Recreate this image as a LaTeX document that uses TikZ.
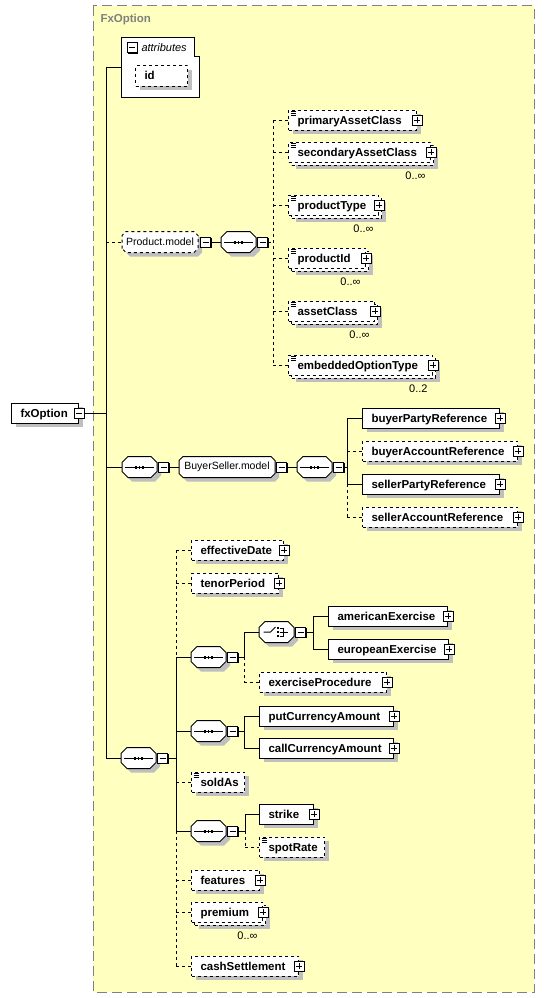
\documentclass[tikz,border=0pt]{standalone}
\usepackage{fontspec}
\setmainfont{Liberation Sans}
\usetikzlibrary{positioning,shadows}

\definecolor{schemabg}{RGB}{255,255,192}
\definecolor{framegray}{RGB}{128,128,128}
\newcommand\elfont{\fontsize{11.5}{13}\selectfont\bfseries\hyphenpenalty=10000 }
\newcommand\grfont{\fontsize{10.5}{12}\selectfont}

% compositor / group outline: rectangle with cut corners
\makeatletter
\pgfkeys{/pgf/octo cut/.initial=6pt}
\pgfdeclareshape{octo}{%
	\inheritsavedanchors[from=rectangle]%
	\inheritanchorborder[from=rectangle]%
	\inheritanchor[from=rectangle]{center}%
	\inheritanchor[from=rectangle]{north}%
	\inheritanchor[from=rectangle]{south}%
	\inheritanchor[from=rectangle]{east}%
	\inheritanchor[from=rectangle]{west}%
	\inheritanchor[from=rectangle]{north east}%
	\inheritanchor[from=rectangle]{north west}%
	\inheritanchor[from=rectangle]{south east}%
	\inheritanchor[from=rectangle]{south west}%
	\inheritanchor[from=rectangle]{base}%
	\inheritanchor[from=rectangle]{mid}%
	\backgroundpath{%
		\pgfmathsetlength\pgf@xc{\pgfkeysvalueof{/pgf/octo cut}}%
		\southwest \pgf@xa=\pgf@x \pgf@ya=\pgf@y
		\northeast \pgf@xb=\pgf@x \pgf@yb=\pgf@y
		\pgfpathmoveto{\pgfqpoint{\pgf@xa}{\dimexpr\pgf@ya+\pgf@xc\relax}}%
		\pgfpathlineto{\pgfqpoint{\pgf@xa}{\dimexpr\pgf@yb-\pgf@xc\relax}}%
		\pgfpathlineto{\pgfqpoint{\dimexpr\pgf@xa+\pgf@xc\relax}{\pgf@yb}}%
		\pgfpathlineto{\pgfqpoint{\dimexpr\pgf@xb-\pgf@xc\relax}{\pgf@yb}}%
		\pgfpathlineto{\pgfqpoint{\pgf@xb}{\dimexpr\pgf@yb-\pgf@xc\relax}}%
		\pgfpathlineto{\pgfqpoint{\pgf@xb}{\dimexpr\pgf@ya+\pgf@xc\relax}}%
		\pgfpathlineto{\pgfqpoint{\dimexpr\pgf@xb-\pgf@xc\relax}{\pgf@ya}}%
		\pgfpathlineto{\pgfqpoint{\dimexpr\pgf@xa+\pgf@xc\relax}{\pgf@ya}}%
		\pgfpathclose
	}%
}
\makeatother

\tikzset{
	elem/.style={draw, fill=white, anchor=west, minimum height=20pt, minimum width=#1,
		text width=#1-18, inner xsep=9pt, inner ysep=0pt, text height=9pt, text depth=1pt, font=\elfont},
	optl/.style={dashed},
	sh/.style={general shadow={fill=black!25, shadow xshift=4pt, shadow yshift=-4pt}},
	msh/.style={general shadow={fill=black!25, shadow xshift=7pt, shadow yshift=-7pt},
		general shadow={draw, fill=white, shadow xshift=3pt, shadow yshift=-3pt}},
	simpletype/.style={path picture={
		\foreach \d in {1.5,3.5,5.5}
			\draw[solid, line width=0.8pt] ([xshift=2pt, yshift=-\d pt]path picture bounding box.north west) -- ++(5pt,0pt);}},
	comp/.style={shape=octo, octo cut=6pt, draw, fill=white, sh, anchor=west,
		minimum width=34pt, minimum height=20pt, inner sep=0pt},
	seqc/.style={comp, path picture={
		\draw[solid] ([xshift=3pt]path picture bounding box.west) -- ([xshift=-3pt]path picture bounding box.east);
		\foreach \d in {-3.5,0,3.5}
			\fill[black] ([xshift=\d pt]path picture bounding box.center) +(-0.9pt,-1.5pt) rectangle +(0.9pt,1.5pt);}},
	choicec/.style={comp, path picture={
		\coordinate (cc) at (path picture bounding box.center);
		\draw[solid] ([xshift=-13pt]cc) -- ([xshift=-6pt]cc) -- ([xshift=-1pt, yshift=5pt]cc);
		\foreach \d in {-4,0,4}
			\fill[black] ([xshift=1.5pt, yshift=\d pt]cc) +(-1.3pt,-1.3pt) rectangle +(1.3pt,1.3pt);
		\draw[solid] ([xshift=3pt, yshift=4pt]cc) -- ([xshift=7pt, yshift=4pt]cc) -- ([xshift=7pt, yshift=-4pt]cc) -- ([xshift=3pt, yshift=-4pt]cc)
			([xshift=3pt]cc) -- ([xshift=11pt]cc);}},
	grp/.style={shape=octo, octo cut=4pt, draw, fill=white, sh, anchor=west,
		minimum height=20pt, inner xsep=2pt, inner ysep=0pt, font=\grfont},
	mbox/.style={draw, solid, fill=white, minimum size=10pt, inner sep=0pt,
		general shadow={fill=black, shadow xshift=1pt, shadow yshift=-1pt},
		path picture={\draw ([xshift=-3pt]path picture bounding box.center) -- ([xshift=3pt]path picture bounding box.center);}},
	pbox/.style={draw, solid, fill=white, minimum size=10pt, inner sep=0pt,
		general shadow={fill=black, shadow xshift=1pt, shadow yshift=-1pt},
		path picture={\draw (path picture bounding box.center) +(-3pt,0pt) -- +(3pt,0pt) +(0pt,-3pt) -- +(0pt,3pt);}},
	mult/.style={font=\fontsize{11}{13}\selectfont, inner sep=0pt},
}

\begin{document}
\begin{tikzpicture}[x=1pt, y=-1pt, line width=1pt, node distance=10pt]
\useasboundingbox (0,0) rectangle (545,998);
% complex type frame
\draw[framegray, fill=schemabg, dash pattern=on 10pt off 5pt] (93,6) rectangle (534,992);
\node[anchor=base west, inner sep=0pt, text=framegray, font=\elfont] (title) at (100,23) {FxOption};

% root element and attributes
\node[elem=67, sh] (fx) at (11,413) {fxOption};
\node[mbox] (fx-m) at (fx.east) {};
\coordinate (spine) at (106,413);

\draw[fill=white] (121,38) -- (194,38) -- (194,57) -- (199,57) -- (199,97) -- (121,97) -- cycle;
\node[mbox] (attr-m) at (132,48) {};
\node[anchor=base west, inner sep=0pt, font=\fontsize{11}{13}\selectfont\itshape] (attr) at (141,52) {attributes};
\node[elem=52, optl, sh] (id) at (135,76) {id};
\coordinate (attrin) at (121,68);

% Product.model
\node[grp, optl, minimum width=75pt] (pm) at (122,242) {Product.model};
\node[mbox, right=2pt of pm] (pm-m) {};
\node[seqc, right=of pm-m] (pmseq) {};
\node[mbox, right=1pt of pmseq] (pmseq-m) {};
\coordinate (pbus) at (273,242);

\node[elem=128, optl, sh, simpletype] (pac) at (288,120) {primaryAssetClass};
\node[elem=142, optl, msh, simpletype] (sac) at (288,152) {secondaryAssetClass};
\node[elem=90, optl, msh, simpletype] (pt) at (288,205) {productType};
\node[elem=77, optl, msh, simpletype] (pid) at (288,258) {productId};
\node[elem=86, optl, msh, simpletype] (ac) at (288,311) {assetClass};
\node[elem=144, optl, msh, simpletype] (eot) at (288,365) {embeddedOptionType};
\node[mult, below left=9pt and 5pt of sac.south east] (sac-n) {0..∞};
\node[mult, below left=9pt and 5pt of pt.south east] (pt-n) {0..∞};
\node[mult, below left=9pt and 5pt of pid.south east] (pid-n) {0..∞};
\node[mult, below left=9pt and 5pt of ac.south east] (ac-n) {0..∞};
\node[mult, below left=9pt and 5pt of eot.south east] (eot-n) {0..2};

% BuyerSeller.model
\node[seqc] (bsseq) at (122,467) {};
\node[mbox, right=1pt of bsseq] (bsseq-m) {};
\node[grp, minimum width=95pt, right=of bsseq-m] (bs) {BuyerSeller.model};
\node[mbox, right=1pt of bs] (bs-m) {};
\node[seqc, right=of bs-m] (bsseq2) {};
\node[mbox, right=1pt of bsseq2] (bsseq2-m) {};
\coordinate (bbus) at (347,467);

\node[elem=137, sh] (bpr) at (362,418) {buyerPartyReference};
\node[elem=155, optl, sh] (bar) at (362,451) {buyerAccountReference};
\node[elem=137, sh] (spr) at (362,484) {sellerPartyReference};
\node[elem=155, optl, sh] (sar) at (362,517) {sellerAccountReference};

% option terms
\node[seqc] (mseq) at (121,758) {};
\node[mbox, right=1pt of mseq] (mseq-m) {};
\coordinate (mbus) at (176,758);

\node[elem=92, optl, sh] (efd) at (191,550) {effectiveDate};
\node[elem=87, optl, sh] (tp) at (191,583) {tenorPeriod};
\node[seqc] (exseq) at (191,657) {};
\node[mbox, right=1pt of exseq] (exseq-m) {};
\coordinate (exbus) at (244,657);
\node[choicec] (ch) at (259,632) {};
\node[mbox, right=1pt of ch] (ch-m) {};
\coordinate (chbus) at (313,632);
\node[elem=119, sh] (ae) at (328,616) {americanExercise};
\node[elem=120, sh] (ee) at (328,649) {europeanExercise};
\node[elem=127, optl, sh] (exp) at (259,682) {exerciseProcedure};

\node[seqc] (amtseq) at (191,731) {};
\node[mbox, right=1pt of amtseq] (amtseq-m) {};
\coordinate (amtbus) at (244,731);
\node[elem=134, sh] (put) at (259,716) {putCurrencyAmount};
\node[elem=134, sh] (call) at (259,748) {callCurrencyAmount};

\node[elem=53, optl, sh, simpletype] (sold) at (191,782) {soldAs};

\node[seqc] (rateseq) at (191,831) {};
\node[mbox, right=1pt of rateseq] (rateseq-m) {};
\coordinate (ratebus) at (245,831);
\node[elem=54, sh] (strike) at (259,814) {strike};
\node[elem=65, optl, sh, simpletype] (spot) at (259,847) {spotRate};

\node[elem=68, optl, sh] (feat) at (191,880) {features};
\node[elem=71, optl, msh] (prem) at (191,912) {premium};
\node[mult, below left=9pt and 5pt of prem.south east] (prem-n) {0..∞};
\node[elem=107, optl, sh] (cash) at (191,966) {cashSettlement};

% expand buttons
\foreach \n in {pac,sac,pt,pid,ac,eot,bpr,bar,spr,sar,efd,tp,ae,ee,exp,put,call,strike,feat,prem,cash}
	\node[pbox] (\n-p) at (\n.east) {};

% connectors
\draw (fx-m) -- (spine);
\draw (spine |- attrin) -- (spine |- mseq.west);
\draw (spine |- attrin) -- (attrin);
\draw[dashed] (spine |- pm.west) -- (pm.west);
\draw (spine |- bsseq.west) -- (bsseq.west);
\draw (spine |- mseq.west) -- (mseq.west);

\draw (pm-m) -- (pmseq);
\draw[dashed] (pmseq-m) -- (pbus);
\draw[dashed] (pbus |- pac.west) -- (pbus |- eot.west);
\foreach \n in {pac,sac,pt,pid,ac,eot}
	\draw[dashed] (pbus |- \n.west) -- (\n.west);

\draw (bsseq-m) -- (bs);
\draw (bs-m) -- (bsseq2);
\draw (bsseq2-m) -- (bbus);
\draw (bbus |- bpr.west) -- (bbus |- spr.west);
\draw[dashed] (bbus |- spr.west) -- (bbus |- sar.west);
\draw (bbus |- bpr.west) -- (bpr.west);
\draw[dashed] (bbus |- bar.west) -- (bar.west);
\draw (bbus |- spr.west) -- (spr.west);
\draw[dashed] (bbus |- sar.west) -- (sar.west);

\draw (mseq-m) -- (mbus);
\draw[dashed] (mbus |- efd.west) -- (mbus |- exseq.west);
\draw (mbus |- exseq.west) -- (mbus |- rateseq.west);
\draw[dashed] (mbus |- rateseq.west) -- (mbus |- cash.west);
\foreach \n in {exseq,amtseq,rateseq}
	\draw (mbus |- \n.west) -- (\n.west);
\foreach \n in {efd,tp,sold,feat,prem,cash}
	\draw[dashed] (mbus |- \n.west) -- (\n.west);

\draw (exseq-m) -- (exbus);
\draw (exbus |- ch.west) -- (exbus);
\draw[dashed] (exbus) -- (exbus |- exp.west);
\draw (exbus |- ch.west) -- (ch.west);
\draw[dashed] (exbus |- exp.west) -- (exp.west);
\draw (ch-m) -- (chbus);
\draw (chbus |- ae.west) -- (chbus |- ee.west);
\draw (chbus |- ae.west) -- (ae.west);
\draw (chbus |- ee.west) -- (ee.west);

\draw (amtseq-m) -- (amtbus);
\draw (amtbus |- put.west) -- (amtbus |- call.west);
\draw (amtbus |- put.west) -- (put.west);
\draw (amtbus |- call.west) -- (call.west);

\draw (rateseq-m) -- (ratebus);
\draw (ratebus |- strike.west) -- (ratebus);
\draw[dashed] (ratebus) -- (ratebus |- spot.west);
\draw (ratebus |- strike.west) -- (strike.west);
\draw[dashed] (ratebus |- spot.west) -- (spot.west);
\end{tikzpicture}
\end{document}
